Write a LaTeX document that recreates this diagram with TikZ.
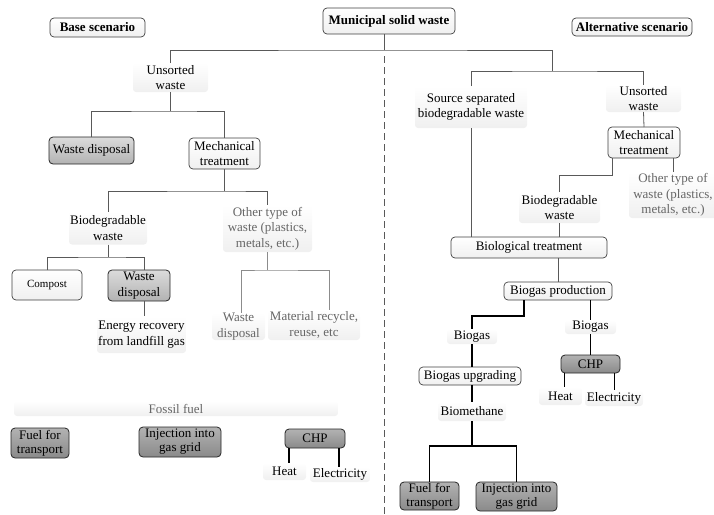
\documentclass[tikz,border=0pt]{standalone}
\usepackage{fontspec}
\setmainfont{Liberation Serif}
\begin{document}
\begin{tikzpicture}[x=1pt,y=-1pt,
  every node/.style={font=\fontsize{13}{15.5}\selectfont, align=center, inner sep=0pt, outer sep=0pt},
  plainbox/.style={draw=black!75, line width=0.7pt, rounded corners=4pt, top color=white, bottom color=gray!12},
  darkbox/.style={draw=black!85, line width=0.8pt, rounded corners=4pt, top color=black!14, bottom color=black!30},
  darkerbox/.style={draw=black!85, line width=0.8pt, rounded corners=4pt, top color=black!30, bottom color=black!46},
  lightbox/.style={rounded corners=3pt, top color=white, bottom color=gray!12},
  graytext/.style={text=black!60},
  link/.style={draw=black!65, line width=0.8pt},
  lightlink/.style={draw=black!45, line width=0.8pt},
  thklink/.style={draw=black, line width=1.6pt},
  dashlink/.style={draw=black!65, line width=0.8pt, dash pattern=on 7pt off 4pt}
]
\useasboundingbox (0,0) rectangle (714,514);

% headers
\node[plainbox, minimum width=132, minimum height=26, font=\fontsize{13}{15.5}\selectfont\bfseries] (msw) at (389,21) {Municipal solid waste};
\node[plainbox, minimum width=95, minimum height=19, font=\fontsize{13}{15.5}\selectfont\bfseries] (base) at (97.5,27.5) {Base scenario};
\node[plainbox, minimum width=120, minimum height=18, font=\fontsize{13}{15.5}\selectfont\bfseries] (alt) at (632,27) {Alternative scenario};

% base scenario
\node[lightbox, minimum width=75, minimum height=29] (uL) at (170.5,77.5) {Unsorted\\waste};
\node[darkbox, minimum width=85, minimum height=27] (wd1) at (91.5,150.5) {Waste disposal};
\node[plainbox, minimum width=71, minimum height=31] (mechL) at (224.5,153.5) {Mechanical\\treatment};
\node[lightbox, minimum width=78, minimum height=33] (bdL) at (108,228) {Biodegradable\\waste};
\node[lightbox, graytext, minimum width=89, minimum height=47] (otL) at (267.5,228.5) {Other type of\\waste (plastics,\\metals, etc.)};
\node[plainbox, minimum width=70, minimum height=30, font=\fontsize{11}{13}\selectfont] (comp) at (47,285) {Compost};
\node[darkbox, minimum width=62, minimum height=31] (wd2) at (139,285.5) {Waste\\disposal};
\node[lightbox, minimum width=89, minimum height=37] (en) at (141.5,334.5) {Energy recovery\\from landfill gas};
\node[lightbox, graytext, minimum width=53, minimum height=27] (wdg) at (238.5,326.5) {Waste\\disposal};
\node[lightbox, graytext, minimum width=92, minimum height=30] (mat) at (314,325) {Material recycle,\\reuse, etc};

\node[lightbox, graytext, minimum width=324, minimum height=15] (ff) at (176,408.5) {Fossil fuel};
\node[darkerbox, minimum width=58, minimum height=30, font=\fontsize{13}{14}\selectfont] (fuelL) at (40,443) {Fuel for\\transport};
\node[darkerbox, minimum width=82, minimum height=30, font=\fontsize{13}{14}\selectfont] (injL) at (180,442) {Injection into\\gas grid};
\node[darkerbox, minimum width=60, minimum height=19] (chpL) at (315,438.5) {CHP};
\node[lightbox, minimum width=43, minimum height=17] (heatL) at (284.5,471.5) {Heat};
\node[lightbox, minimum width=60, minimum height=15] (elL) at (340,474.5) {Electricity};

% alternative scenario
\node[lightbox, minimum width=112, minimum height=42] (ss) at (471,107) {Source separated\\biodegradable waste};
\node[lightbox, minimum width=75, minimum height=27] (uR) at (643.5,98.5) {Unsorted\\waste};
\node[plainbox, minimum width=72, minimum height=31] (mechR) at (644,142.5) {Mechanical\\treatment};
\node[lightbox, graytext, minimum width=88, minimum height=46] (otR) at (673,195) {Other type of\\waste (plastics,\\metals, etc.)};
\node[lightbox, minimum width=81, minimum height=31] (bdR) at (559.5,207.5) {Biodegradable\\waste};
\node[plainbox, minimum width=156, minimum height=21] (bt) at (529,247.5) {Biological treatment};
\node[plainbox, minimum width=108, minimum height=18] (bp) at (558,291) {Biogas production};
\node[lightbox, minimum width=50, minimum height=15] (bgL) at (472,336.5) {Biogas};
\node[lightbox, minimum width=51, minimum height=14] (bgR) at (590.5,327) {Biogas};
\node[plainbox, minimum width=102, minimum height=18] (bu) at (470,376) {Biogas upgrading};
\node[lightbox, minimum width=68, minimum height=19] (bm) at (472,411.5) {Biomethane};
\node[darkerbox, minimum width=59, minimum height=28, font=\fontsize{13}{14}\selectfont] (fuelR) at (429.5,496) {Fuel for\\transport};
\node[darkerbox, minimum width=81, minimum height=29, font=\fontsize{13}{14}\selectfont] (injR) at (516.5,496.5) {Injection into\\gas grid};
\node[darkerbox, minimum width=59, minimum height=18] (chpR) at (590.5,364) {CHP};
\node[lightbox, minimum width=43, minimum height=18] (heatR) at (560.5,396) {Heat};
\node[lightbox, minimum width=58, minimum height=16] (elR) at (614,398) {Electricity};

% junction coordinates
\coordinate (j0) at (384,50);
\coordinate (j1) at (552,71);
\coordinate (jb) at (384,514);
\coordinate (h1) at (170.5,111);
\coordinate (h2) at (224.5,191);
\coordinate (h3) at (108,257);
\coordinate (h4) at (267.5,270);
\coordinate (h5) at (612,175);
\coordinate (h6) at (472,316);
\coordinate (h7) at (472,446);

% connectors top
\draw[link] (msw.south -| j0) -- (j0);
\draw[dashlink] (j0) ++(0,6) -- (jb);
\draw[link] (uL.north) |- (j0) -| (j1);
\draw[link] (ss.north) |- (j1) -| (uR.north);

% base connectors
\draw[link] (uL.south) -- (h1);
\draw[link] (wd1.north) |- (h1) -| (mechL.north);
\draw[link] (mechL.south) -- (h2);
\draw[link] (bdL.north) |- (h2) -| (otL.north);
\draw[link] (bdL.south) -- (h3);
\draw[link] (comp.north) |- (h3) -| ([xshift=5pt]wd2.north);
\draw[link] ([xshift=5pt]wd2.south) -- ([xshift=5pt]wd2.south |- en.north);
\draw[lightlink] (otL.south) -- (h4);
\draw[lightlink] ([xshift=2.5pt]wdg.north) |- (h4) -| ([xshift=15pt]mat.north);
\draw[thklink] ([xshift=-26pt]chpL.south) -- ([xshift=-26pt]chpL.south |- heatL.north);
\draw[thklink] ([xshift=24pt]chpL.south) -- ([xshift=24pt]chpL.south |- elL.north);

% alternative connectors
\draw[link] (ss.south) -- (ss.south |- bt.north);
\draw[link] (uR.south) -- (mechR.north);
\draw[link] (bdR.north) |- (h5) -- ([xshift=-32pt]mechR.south);
\draw[link] ([xshift=29pt]mechR.south) -- ([xshift=29pt]mechR.south |- otR.north);
\draw[link] (bdR.south) -- (bdR.south |- bt.north);
\draw[link] (bp.north |- bt.south) -- (bp.north);
\draw[thklink] ([xshift=-34pt]bp.south) |- (h6) -- (bgL.north);
\draw[thklink] (bgR.north |- bp.south) -- (bgR.north);
\draw[thklink] (bgL.south) -- (bgL.south |- bu.north);
\draw[thklink] (bgR.south) -- (bgR.south |- chpR.north);
\draw[thklink] (bm.north |- bu.south) -- (bm.north);
\draw[thklink] (bm.south) -- (h7);
\draw[thklink] (fuelR.north) |- (h7) -| (injR.north);
\draw[thklink] ([xshift=-26pt]chpR.south) -- ([xshift=-26pt]chpR.south |- heatR.north);
\draw[thklink] ([xshift=24pt]chpR.south) -- ([xshift=24pt]chpR.south |- elR.north);
\end{tikzpicture}
\end{document}
